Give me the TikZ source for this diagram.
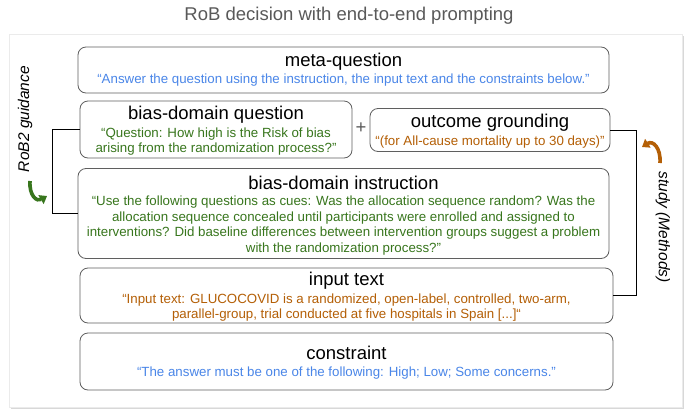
\documentclass[tikz,border=0pt]{standalone}
\usepackage{fontspec}
\setmainfont{Liberation Sans}
\usetikzlibrary{arrows.meta, positioning, shadows}
\definecolor{promptblue}{HTML}{4A86E8}
\definecolor{promptgreen}{HTML}{38761D}
\definecolor{promptorange}{HTML}{B45F06}
\definecolor{framegray}{HTML}{5F5F5F}
\definecolor{titlegray}{HTML}{595959}

\begin{document}
\begin{tikzpicture}[x=1pt, y=-1pt,
    box/.style={draw=framegray, rounded corners=8pt, line width=0.8pt, fill=white, inner sep=0pt},
    boxtitle/.style={font=\fontsize{18.5}{21}\selectfont, inner sep=0pt},
    boxtext/.style={font=\fontsize{13.3}{15.8}\selectfont, align=center, inner sep=0pt},
    sidelabel/.style={font=\fontsize{15.5}{18}\selectfont\itshape, inner sep=0pt},
    link/.style={draw=black, line width=0.8pt},
    turn/.style={line width=3.6pt, -{Triangle[length=7pt, width=10pt]}},
]
\useasboundingbox (0,0) rectangle (697,418);
\fill[white] (0,0) rectangle (697,418);

% Title and panel
\node[font=\fontsize{18.5}{21}\selectfont, text=titlegray] (title) at (349,16) {RoB decision with end-to-end prompting};
\node[draw=black!8, fill=white, minimum width=673pt, minimum height=373pt, inner sep=0pt,
      drop shadow={opacity=0.3, shadow xshift=1.5pt, shadow yshift=-2pt}] (panel) at (345.5,220.5) {};

% Prompt parts
\node[box, minimum width=531pt, minimum height=46pt] (meta) at (343.5,70) {};
\node[boxtitle] (metaT) at (343.5,62) {meta-question};
\node[boxtext, text=promptblue] (metaB) at (343.5,80.5) {``Answer the question using the instruction, the input text and the constraints below.''};

\node[box, minimum width=272pt, minimum height=57pt] (bdq) at (216,129.5) {};
\node[boxtitle] (bdqT) at (216,115) {bias-domain question};
\node[boxtext, text=promptgreen] (bdqB) at (216,141.5) {``Question: How high is the Risk of bias\\arising from the randomization process?"};

\node[font=\fontsize{18.5}{21}\selectfont, text=titlegray] (plus) at (361,128) {+};

\node[box, minimum width=240pt, minimum height=43pt] (og) at (490,130) {};
\node[boxtitle] (ogT) at (490,123) {outcome grounding};
\node[boxtext, text=promptorange] (ogB) at (490,142) {``(for All-cause mortality up to 30 days)"};

\node[box, minimum width=531pt, minimum height=90pt] (bdi) at (343.5,213.5) {};
\node[boxtitle] (bdiT) at (343.5,183) {bias-domain instruction};
\node[boxtext, text=promptgreen] (bdiB) at (343.5,225.5) {``Use the following questions as cues: Was the allocation sequence random? Was the\\allocation sequence concealed until participants were enrolled and assigned to\\interventions? Did baseline differences between intervention groups suggest a problem\\with the randomization process?"};

\node[box, minimum width=533pt, minimum height=55pt] (input) at (346.5,295.5) {};
\node[boxtitle] (inputT) at (346.5,281) {input text};
\node[boxtext, text=promptorange] (inputB) at (346.5,307.5) {``Input text: GLUCOCOVID is a randomized, open-label, controlled, two-arm,\\parallel-group, trial conducted at five hospitals in Spain [...]``};

\node[box, minimum width=533pt, minimum height=57pt] (cons) at (346.5,361.5) {};
\node[boxtitle] (consT) at (346.5,353) {constraint};
\node[boxtext, text=promptblue] (consB) at (346.5,373) {``The answer must be one of the following: High; Low; Some concerns."};

% Connectors
\draw[link] (bdq.west) -- ++(-27,0) |- (bdi.west);
\draw[link] (og.east) -- ++(26,0) |- (input.east);

% Side labels
\node[sidelabel, rotate=90] (guideL) at (25,119) {RoB2 guidance};
\draw[turn, promptgreen] (30,181) .. controls (29,196) and (37,202) .. (47,196);
\node[sidelabel, rotate=-90] (studyL) at (663,227) {study (Methods)};
\draw[turn, promptorange] (660,163) .. controls (661,148) and (653,140) .. (642,147);

\end{tikzpicture}
\end{document}
